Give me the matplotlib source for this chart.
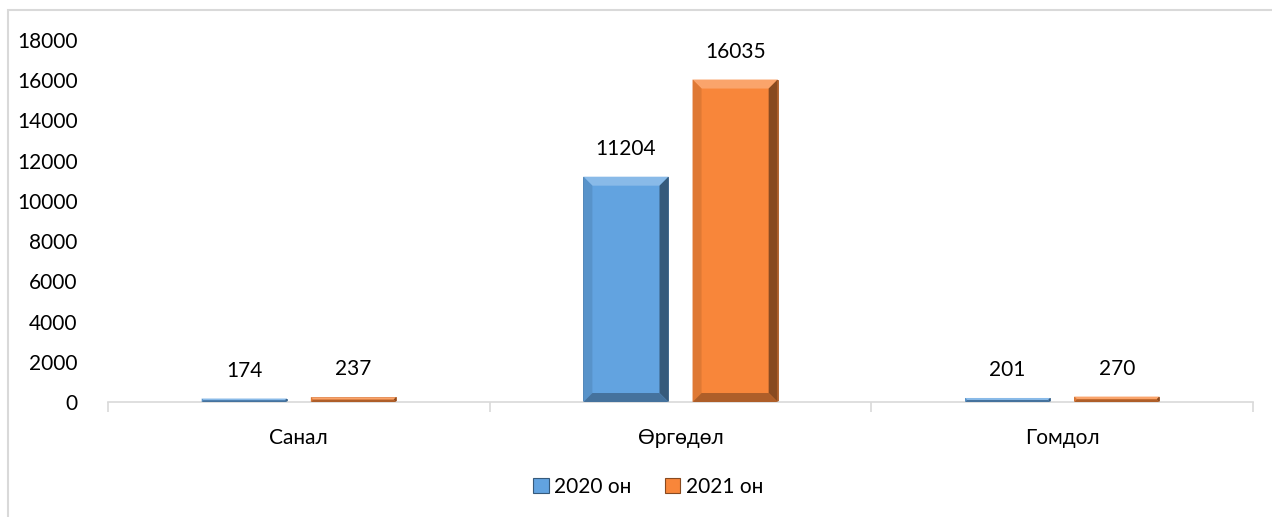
import numpy as np
import matplotlib
matplotlib.use("Agg")
import matplotlib.pyplot as plt
from matplotlib.patches import Polygon, Rectangle
from matplotlib.colors import to_rgb

plt.rcParams['font.family'] = ['Lato', 'DejaVu Sans']

# data
categories = ['Санал', 'Өргөдөл', 'Гомдол']
series_names = ['2020 он', '2021 он']
values_2020 = [174, 11204, 201]
values_2021 = [237, 16035, 270]
colors = ['#62a3e0', '#f8863a']


def shade(c, f):
    # f > 0 lighten, f < 0 darken
    r = np.array(to_rgb(c))
    if f >= 0:
        return tuple(r + (1 - r) * f)
    return tuple(r * (1 + f))


fig = plt.figure(figsize=(12.72, 5.17), dpi=100)
ax = fig.add_axes([0.0849, 0.2224, 0.9002, 0.7002])

# chart border (cut off at right and bottom)
fig.patches.append(Rectangle((8 / 1272, -0.1), 1.2, 1 - 10 / 517 + 0.1,
                             transform=fig.transFigure, fill=False,
                             edgecolor='#d9d9d9', linewidth=1.5))

x = np.arange(len(categories))
width = 0.223
offset = 0.143

ax.set_xlim(-0.5, len(categories) - 0.5)
ax.set_ylim(0, 18000)

# pixels per data unit, for the bevel
p0 = ax.transData.transform((0, 0))
p1 = ax.transData.transform((1, 1000))
px_x = p1[0] - p0[0]
px_y = (p1[1] - p0[1]) / 1000.0

fs = 15
for vals, col, sgn in [(values_2020, colors[0], -1), (values_2021, colors[1], 1)]:
    bars = ax.bar(x + sgn * offset, vals, width, color=col, zorder=2,
                  edgecolor=shade(col, -0.35), linewidth=0.6)
    for b in bars:
        bx, by = b.get_x(), b.get_y()
        bw, bh = b.get_width(), b.get_height()
        hpx = bh * px_y
        bev = min(9.0, hpx / 2.0)
        dx = bev / px_x
        dy = bev / px_y
        x0, x1 = bx, bx + bw
        y0, y1 = by, by + bh
        faces = [
            ([(x0, y1), (x1, y1), (x1 - dx, y1 - dy), (x0 + dx, y1 - dy)], shade(col, 0.25)),
            ([(x0, y0), (x0 + dx, y0 + dy), (x0 + dx, y1 - dy), (x0, y1)], shade(col, -0.1)),
            ([(x1, y0), (x1, y1), (x1 - dx, y1 - dy), (x1 - dx, y0 + dy)], shade(col, -0.45)),
            ([(x0, y0), (x1, y0), (x1 - dx, y0 + dy), (x0 + dx, y0 + dy)], shade(col, -0.3)),
        ]
        for pts, fc in faces:
            ax.add_patch(Polygon(pts, closed=True, facecolor=fc, edgecolor='none', zorder=3))
        ax.text(bx + bw / 2, y1 + 18 / px_y, str(int(bh)), ha='center', va='bottom',
                fontsize=fs, color='#000000', zorder=4)

ax.set_yticks(np.arange(0, 18001, 2000))
ax.set_yticklabels([str(v) for v in range(0, 18001, 2000)], fontsize=fs)
ax.set_xticks(x)
ax.set_xticklabels(categories, fontsize=fs)
ax.tick_params(axis='y', length=0, pad=22)
ax.tick_params(axis='x', length=0, pad=19)
# boundary ticks between categories
ax.set_xticks(np.arange(-0.5, len(categories), 1.0), minor=True)
ax.tick_params(axis='x', which='minor', length=7, color='#d9d9d9', width=1.2)

for s in ['top', 'right', 'left']:
    ax.spines[s].set_visible(False)
ax.spines['bottom'].set_color('#d9d9d9')
ax.spines['bottom'].set_linewidth(1.2)

handles = [Rectangle((0, 0), 1, 1, facecolor=c, edgecolor=shade(c, -0.45), linewidth=0.8)
           for c in colors]
fig.legend(handles, series_names, loc='center', bbox_to_anchor=(648 / 1272, 1 - 487 / 517),
           ncol=2, frameon=False, fontsize=fs, handlelength=0.75, handleheight=0.75,
           handletextpad=0.25, columnspacing=1.6)

fig.savefig('out.png', dpi=100)
